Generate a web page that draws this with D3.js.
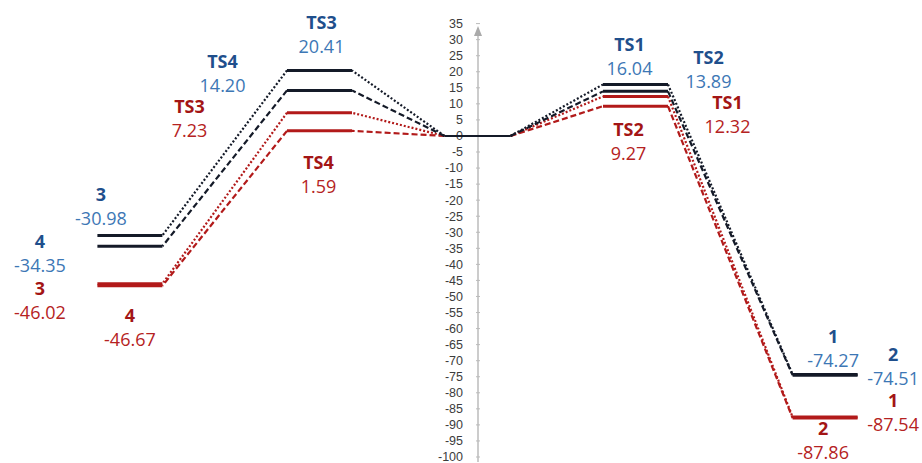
<!DOCTYPE html>
<html>
<head>
<meta charset="utf-8">
<script src="https://cdn.jsdelivr.net/npm/d3@7"></script>
<style>
  body { margin: 0; background: #fff; }
  svg { display: block; }
  .lbl { font-family: "Open Sans", sans-serif; font-size: 18px; text-anchor: middle; }
  .axis text { font-family: "Liberation Sans", sans-serif; font-size: 12.5px; fill: #3c3c3c; }
</style>
</head>
<body>
<div id="viz"></div>
<script>
// data
var stagePos = [-2.2, -1, 0, 1, 2.2];       // reaction coordinate of each stage
var pathNames = ['1', '2', '3', '4'];
var tsNames = ['TS1', 'TS2', 'TS3', 'TS4'];
var pathSide = [1, 1, -1, -1];               // 1 = right branch, -1 = left branch
var blueTS = [16.04, 13.89, 20.41, 14.20];
var blueProd = [-74.27, -74.51, -30.98, -34.35];
var redTS = [12.32, 9.27, 7.23, 1.59];
var redProd = [-87.54, -87.86, -46.02, -46.67];
var yTickValues = [35, 30, 25, 20, 15, 10, 5, 0, -5, -10, -15, -20, -25, -30, -35, -40,
  -45, -50, -55, -60, -65, -70, -75, -80, -85, -90, -95, -100];

// label placement (pixel offsets from the level centre)
var blueTSOff = [[-6, -40], [73, -34], [2, -48], [-97, -29]];
var blueProdOff = [[8, -38], [68, -21], [-29, -41], [-90, -5]];
var redTSOff = [[92, 6], [-7, 23], [-130, -6], [-1, 32]];
var redProdOff = [[68, -16], [-2, 10], [-90, 5], [0, 30]];

var width = 922, height = 463;
var halfW = 32.5;

var svg = d3.select('#viz').append('svg')
  .attr('width', width)
  .attr('height', height);

var x = d3.scaleLinear().domain([-1, 1]).range([319.5, 635.5]);
var y = d3.scaleLinear().domain([-100, 35]).range([457, 23.6]);

// axis
var axisX = 478;
var ax = svg.append('g').attr('class', 'axis');
ax.append('line')
  .attr('x1', axisX).attr('x2', axisX)
  .attr('y1', 30).attr('y2', 462)
  .attr('stroke', '#aaa').attr('stroke-width', 1.2);
ax.append('path')
  .attr('d', 'M' + axisX + ',26 L' + (axisX - 4) + ',36 L' + (axisX + 4) + ',36 Z')
  .attr('fill', '#aaa');
ax.selectAll('line.tk')
  .data(yTickValues)
  .enter().append('line')
  .attr('class', 'tk')
  .attr('x1', axisX - 2).attr('x2', axisX + 2)
  .attr('y1', function(d){ return y(d); })
  .attr('y2', function(d){ return y(d); })
  .attr('stroke', '#bbb');
ax.selectAll('text')
  .data(yTickValues)
  .enter().append('text')
  .attr('x', 463)
  .attr('y', function(d){ return y(d); })
  .attr('dy', '0.35em')
  .attr('text-anchor', 'end')
  .text(function(d){ return d; });

var series = [
  { name: 'red', ts: redTS, prod: redProd, line: '#b21a1a', nameCol: '#a31515', valCol: '#b52222', tsOff: redTSOff, prodOff: redProdOff },
  { name: 'blue', ts: blueTS, prod: blueProd, line: '#141a28', nameCol: '#1f4f8c', valCol: '#3d77b5', tsOff: blueTSOff, prodOff: blueProdOff }
];

function dashFor(i) {
  return (i % 2 == 0) ? '2,2' : '6,3';
}

series.forEach(function(s){
  var g = svg.append('g').attr('class', s.name);
  pathNames.forEach(function(p, i){
    var side = pathSide[i];
    var xTS = x(side * stagePos[3]);
    var xP = x(side * stagePos[4]);
    var pts = [
      [x(stagePos[2]) + side * 33, y(0)],
      [xTS - side * halfW, y(s.ts[i])],
      null,
      [xTS + side * halfW, y(s.ts[i])],
      [xP - side * halfW, y(s.prod[i])]
    ];
    // connectors
    g.append('line')
      .attr('x1', pts[0][0]).attr('y1', pts[0][1])
      .attr('x2', pts[1][0]).attr('y2', pts[1][1])
      .attr('stroke', s.line).attr('stroke-width', 2.2)
      .attr('stroke-dasharray', dashFor(i));
    g.append('line')
      .attr('x1', pts[3][0]).attr('y1', pts[3][1])
      .attr('x2', pts[4][0]).attr('y2', pts[4][1])
      .attr('stroke', s.line).attr('stroke-width', 2.2)
      .attr('stroke-dasharray', dashFor(i));
    // levels
    g.append('line')
      .attr('x1', xTS - halfW).attr('x2', xTS + halfW)
      .attr('y1', y(s.ts[i])).attr('y2', y(s.ts[i]))
      .attr('stroke', s.line).attr('stroke-width', 3);
    g.append('line')
      .attr('x1', xP - halfW).attr('x2', xP + halfW)
      .attr('y1', y(s.prod[i])).attr('y2', y(s.prod[i]))
      .attr('stroke', s.line).attr('stroke-width', 3);

    // labels
    var lab = function(cx, cy, off, title, val){
      g.append('text').attr('class', 'lbl')
        .attr('x', cx + off[0]).attr('y', cy + off[1])
        .attr('dy', '0.36em')
        .attr('font-weight', 'bold')
        .attr('fill', s.nameCol)
        .text(title);
      g.append('text').attr('class', 'lbl')
        .attr('x', cx + off[0]).attr('y', cy + off[1] + 24)
        .attr('dy', '0.36em')
        .attr('fill', s.valCol)
        .text(val.toFixed(2));
    };
    lab(xTS, y(s.ts[i]), s.tsOff[i], tsNames[i], s.ts[i]);
    lab(xP, y(s.prod[i]), s.prodOff[i], pathNames[i], s.prod[i]);
  });
});

// common zero level
svg.append('line')
  .attr('x1', x(stagePos[2]) - 33).attr('x2', x(stagePos[2]) + 33)
  .attr('y1', y(0)).attr('y2', y(0))
  .attr('stroke', '#141a28').attr('stroke-width', 2);
</script>
</body>
</html>
